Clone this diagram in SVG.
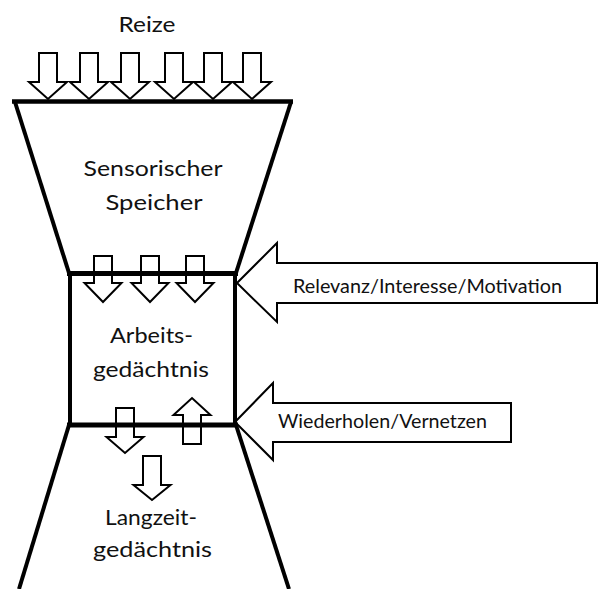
<svg xmlns="http://www.w3.org/2000/svg" width="599" height="589" viewBox="0 0 599 589">
<style>
.lbl{font-family:Lato,"Open Sans","Liberation Sans",sans-serif;font-size:21px;fill:#111;text-anchor:middle}
.side{font-family:Lato,"Open Sans","Liberation Sans",sans-serif;font-size:18.5px;fill:#111}
.arr{fill:#fff;stroke:#000;stroke-width:2;stroke-linejoin:miter}
.wall{stroke:#000;stroke-width:4;fill:none;stroke-linecap:butt}
.bar{stroke:#000;stroke-width:5;fill:none}
</style>
<rect width="599" height="589" fill="#fff"/>
<g id="connectors">
<g id="reize-arrows">
<polygon class="arr" points="39,53 57,53 57,82 67,82 48,99 29,82 39,82"/>
<polygon class="arr" points="80,53 98,53 98,82 108,82 89,99 70,82 80,82"/>
<polygon class="arr" points="121,53 139,53 139,82 149,82 130,99 111,82 121,82"/>
<polygon class="arr" points="165,53 183,53 183,82 193,82 174,99 155,82 165,82"/>
<polygon class="arr" points="204,53 222,53 222,82 232,82 213,99 194,82 204,82"/>
<polygon class="arr" points="243,53 261,53 261,82 271,82 252,99 233,82 243,82"/>
</g>
<g id="box-in-arrows">
<polygon class="arr" points="94,256 112,256 112,283 121.5,283 103,302 84.5,283 94,283"/>
<polygon class="arr" points="141,256 159,256 159,283 168.5,283 150,302 131.5,283 141,283"/>
<polygon class="arr" points="186,256 204,256 204,283 213.5,283 195,302 176.5,283 186,283"/>
</g>
<g id="box-out-arrows">
<polygon class="arr" points="116,408 134,408 134,437 143.5,437 125,453 106.5,437 116,437"/>
<polygon class="arr" points="183,444 201,444 201,415 210.5,415 192,398 173.5,415 183,415"/>
<polygon class="arr" points="143,456 161,456 161,485 170.5,485 152,500 133.5,485 143,485"/>
</g>
<g id="relevanz">
<polygon class="arr" points="237,283 277,243 277,263 597,263 597,303 277,303 277,322"/>
<text class="side" x="293" y="293" textLength="269" lengthAdjust="spacingAndGlyphs">Relevanz/Interesse/Motivation</text>
</g>
<g id="wiederholen">
<polygon class="arr" points="235,422 273,383 273,403 511,403 511,442 273,442 273,460"/>
<text class="side" x="278" y="428" textLength="209" lengthAdjust="spacingAndGlyphs">Wiederholen/Vernetzen</text>
</g>
</g>
<g id="reize">
<text class="lbl" x="147" y="32" textLength="57" lengthAdjust="spacingAndGlyphs">Reize</text>
</g>
<g id="sensorischer-speicher">
<line class="wall" x1="15" y1="102" x2="69" y2="273"/>
<line class="wall" x1="291" y1="102" x2="236" y2="273"/>
<line class="bar" x1="12" y1="101.5" x2="293" y2="101.5" style="stroke-width:4.5"/>
<text class="lbl" x="153" y="176" textLength="139" lengthAdjust="spacingAndGlyphs">Sensorischer</text>
<text class="lbl" x="154" y="210" textLength="97" lengthAdjust="spacingAndGlyphs">Speicher</text>
</g>
<g id="arbeitsgedaechtnis">
<line class="wall" x1="70" y1="273" x2="70" y2="425"/>
<line class="wall" x1="235" y1="273" x2="235" y2="425"/>
<line class="bar" x1="67" y1="273.5" x2="238" y2="273.5"/>
<line class="bar" x1="67" y1="425" x2="238" y2="425"/>
<text class="lbl" x="151.5" y="343" textLength="83" lengthAdjust="spacingAndGlyphs">Arbeits-</text>
<text class="lbl" x="151" y="377" textLength="116" lengthAdjust="spacingAndGlyphs">gedächtnis</text>
</g>
<g id="langzeitgedaechtnis">
<line class="wall" x1="69" y1="425" x2="19" y2="589"/>
<line class="wall" x1="236" y1="425" x2="289" y2="589"/>
<text class="lbl" x="151" y="525" textLength="92" lengthAdjust="spacingAndGlyphs">Langzeit-</text>
<text class="lbl" x="152.5" y="557" textLength="119" lengthAdjust="spacingAndGlyphs">gedächtnis</text>
</g>
</svg>
